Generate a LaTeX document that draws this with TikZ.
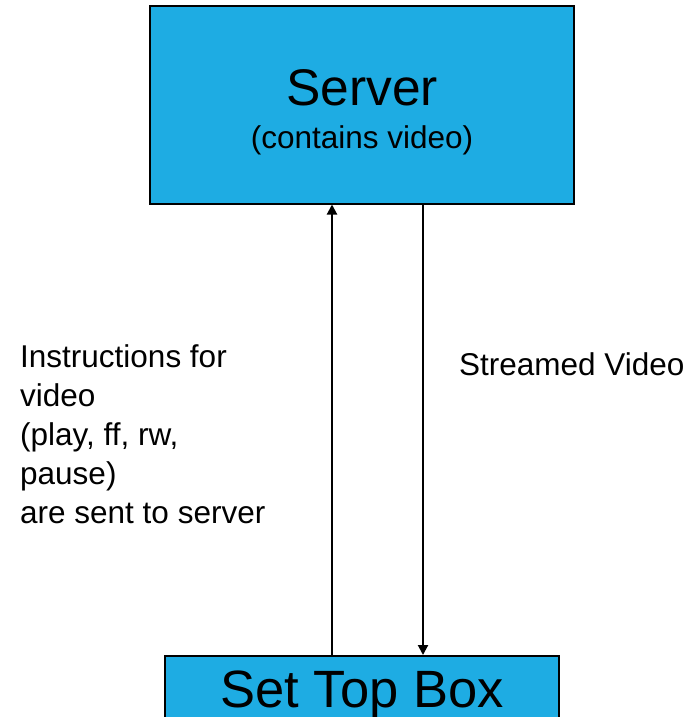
\documentclass[tikz,border=0pt]{standalone}
\usepackage{fontspec}
\setmainfont{Liberation Sans}
\usetikzlibrary{arrows.meta}
\definecolor{boxblue}{RGB}{30,172,227}
\tikzset{
  block/.style={draw=black, line width=2pt, fill=boxblue, inner sep=0pt},
  flow/.style={draw=black, line width=2pt, -{Triangle[length=10pt,width=10pt]}},
  bigtext/.style={font=\fontsize{51.5}{60}\selectfont, inner sep=0pt},
  boxtext/.style={font=\fontsize{52.5}{60}\selectfont, inner sep=0pt},
  smalltext/.style={font=\fontsize{31.5}{39}\selectfont, inner sep=0pt},
}
\begin{document}
\begin{tikzpicture}[x=1pt,y=-1pt]
  \useasboundingbox (0,0) rectangle (689,717);
  \clip (0,0) rectangle (689,717);
  \fill[white] (0,0) rectangle (689,717);

  % boxes
  \node[block, minimum width=424pt, minimum height=197pt] (server) at (362,105) {};
  \node[block, minimum width=394pt, minimum height=80pt] (stb) at (362,696) {};

  % box captions
  \node[bigtext, anchor=base] (servername) at (362,105) {Server};
  \node[smalltext, anchor=base] (servernote) at (362,148) {(contains video)};
  \node[boxtext, anchor=base] (stbname) at (362,707) {Set Top Box};

  % connectors
  \coordinate (upx) at (332,0);
  \coordinate (downx) at (423,0);
  \draw[flow] (stb.north -| upx) -- (server.south -| upx);
  \draw[flow] (server.south -| downx) -- (stb.north -| downx);

  % connector labels (anchored at the baseline of the last line)
  \node[smalltext, anchor=base west, align=left] (instr) at (20,523)
    {Instructions for\\video\\(play, ff, rw,\\pause)\\are sent to server};
  \node[smalltext, anchor=base west] (stream) at (459,375) {Streamed Video};
\end{tikzpicture}
\end{document}
